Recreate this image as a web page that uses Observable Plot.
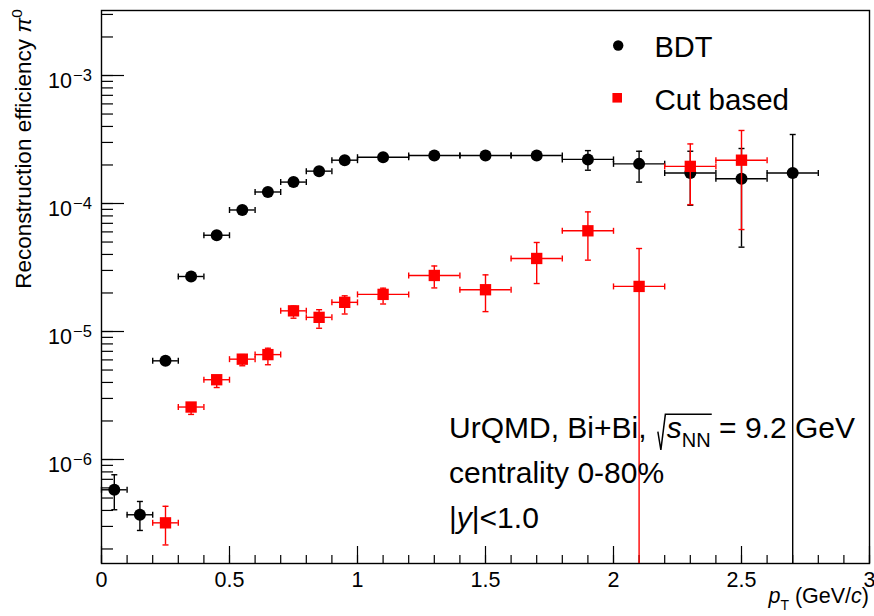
<!DOCTYPE html>
<html>
<head>
<meta charset="utf-8">
<script src="https://cdn.jsdelivr.net/npm/d3@7"></script>
<script src="https://cdn.jsdelivr.net/npm/@observablehq/plot@0.6"></script>
<style>
  html, body { margin: 0; padding: 0; background: #fff; }
  #chart svg { display: block; }
</style>
</head>
<body>
<div id="chart"></div>
<script>
// π0 reconstruction efficiency versus transverse momentum,
// BDT selection compared with cut-based selection.

// BDT selection: bin centres, half bin widths, efficiency and error band
const bdtPt   = [0.05, 0.15, 0.25, 0.35, 0.45, 0.55, 0.65, 0.75, 0.85, 0.95, 1.1, 1.3, 1.5, 1.7, 1.9, 2.1, 2.3, 2.5, 2.7];
const bdtXErr = [0.05, 0.05, 0.05, 0.05, 0.05, 0.05, 0.05, 0.05, 0.05, 0.05, 0.1, 0.1, 0.1, 0.1, 0.1, 0.1, 0.1, 0.1, 0.1];
const bdtEff  = [5.8e-7, 3.7e-7, 5.9e-6, 2.69e-5, 5.65e-5, 8.9e-5, 1.23e-4, 1.47e-4, 1.79e-4, 2.18e-4, 2.30e-4, 2.37e-4, 2.37e-4, 2.37e-4, 2.21e-4, 2.04e-4, 1.73e-4, 1.56e-4, 1.73e-4];
const bdtLow  = [4.05e-7, 2.79e-7, 5.7e-6, 2.62e-5, 5.5e-5, 8.7e-5, 1.2e-4, 1.44e-4, 1.75e-4, 2.13e-4, 2.24e-4, 2.30e-4, 2.30e-4, 2.27e-4, 1.82e-4, 1.47e-4, 9.7e-5, 4.56e-5, 0];
const bdtHigh = [7.6e-7, 4.7e-7, 6.1e-6, 2.76e-5, 5.8e-5, 9.1e-5, 1.26e-4, 1.50e-4, 1.83e-4, 2.23e-4, 2.36e-4, 2.44e-4, 2.44e-4, 2.47e-4, 2.59e-4, 2.56e-4, 2.56e-4, 2.69e-4, 3.46e-4];

// Cut-based selection
const cutPt   = [0.25, 0.35, 0.45, 0.55, 0.65, 0.75, 0.85, 0.95, 1.1, 1.3, 1.5, 1.7, 1.9, 2.1, 2.3, 2.5];
const cutXErr = [0.05, 0.05, 0.05, 0.05, 0.05, 0.05, 0.05, 0.05, 0.1, 0.1, 0.1, 0.1, 0.1, 0.1, 0.1, 0.1];
const cutEff  = [3.2e-7, 2.57e-6, 4.2e-6, 6.08e-6, 6.6e-6, 1.45e-5, 1.29e-5, 1.69e-5, 1.95e-5, 2.74e-5, 2.12e-5, 3.72e-5, 6.12e-5, 2.25e-5, 1.95e-4, 2.18e-4];
const cutLow  = [2.15e-7, 2.25e-6, 3.65e-6, 5.4e-6, 5.5e-6, 1.27e-5, 1.06e-5, 1.37e-5, 1.64e-5, 2.19e-5, 1.43e-5, 2.37e-5, 3.61e-5, 0, 9.8e-5, 6.26e-5];
const cutHigh = [4.31e-7, 2.75e-6, 4.5e-6, 6.6e-6, 7.4e-6, 1.58e-5, 1.48e-5, 1.90e-5, 2.18e-5, 3.25e-5, 2.77e-5, 4.96e-5, 8.6e-5, 4.45e-5, 2.92e-4, 3.72e-4];

const seriesNames  = ["BDT", "Cut based"];
const seriesColors = ["#000000", "#ff0000"];

// Axes
const xDomain = [0, 3];
const yDomain = [1.54e-7, 3.22e-3];
const xTickLabels = [0, 0.5, 1, 1.5, 2, 2.5, 3];
const yTickValues = [1e-6, 1e-5, 1e-4, 1e-3];
const yTickExponents = ["\u22126", "\u22125", "\u22124", "\u22123"];

const font = "'Liberation Sans', Arial, Helvetica, sans-serif";
const W = 874, H = 616, mL = 101, mR = 5, mT = 10, mB = 53;
const plotW = W - mL - mR, plotH = H - mT - mB;

const xMinor = d3.range(0, 31).map(i => i / 10);
const yMinor = [];
for (const dec of [1e-7, 1e-6, 1e-5, 1e-4, 1e-3]) {
  for (let m = 1; m <= 9; m++) {
    const v = m * dec;
    if (v >= yDomain[0] && v <= yDomain[1]) yMinor.push(v);
  }
}

function rows(pt, xerr, eff, lo, hi) {
  return pt.map((x, i) => ({x, y: eff[i], x1: x - xerr[i], x2: x + xerr[i], lo: lo[i], hi: hi[i]}));
}
const bdt = rows(bdtPt, bdtXErr, bdtEff, bdtLow, bdtHigh);
const cut = rows(cutPt, cutXErr, cutEff, cutLow, cutHigh);

// End caps for the error bars
const capAcross = {draw(ctx) { ctx.moveTo(-3, 0); ctx.lineTo(3, 0); }};
const capAlong  = {draw(ctx) { ctx.moveTo(0, -3); ctx.lineTo(0, 3); }};

function errorBars(data, color) {
  const o = {stroke: color, strokeWidth: 1.4};
  return [
    Plot.ruleY(data, {y: "y", x1: "x1", x2: "x2", ...o}),
    Plot.ruleX(data, {x: "x", y1: d => d.lo > 0 ? d.lo : yDomain[0] / 10, y2: "hi", clip: true, ...o}),
    Plot.dot(data, {x: "x1", y: "y", symbol: capAlong, fill: "none", ...o}),
    Plot.dot(data, {x: "x2", y: "y", symbol: capAlong, fill: "none", ...o}),
    Plot.dot(data.filter(d => d.lo > 0), {x: "x", y: "lo", symbol: capAcross, fill: "none", ...o}),
    Plot.dot(data, {x: "x", y: "hi", symbol: capAcross, fill: "none", ...o})
  ];
}

const svg = Plot.plot({
  width: W, height: H,
  marginLeft: mL, marginRight: mR, marginTop: mT, marginBottom: mB,
  style: {background: "#fff", overflow: "visible"},
  x: {domain: xDomain, axis: null},
  y: {type: "log", domain: yDomain, axis: null},
  marks: [
    // tick marks drawn inward from the bottom and left edges
    Plot.tickX(xMinor, {x: d => d, insetTop: plotH - 8, stroke: "#000", strokeWidth: 1.2}),
    Plot.tickX(xTickLabels, {x: d => d, insetTop: plotH - 17, stroke: "#000", strokeWidth: 1.2}),
    Plot.tickY(yMinor, {y: d => d, insetRight: plotW - 12, stroke: "#000", strokeWidth: 1.2}),
    Plot.tickY(yTickValues, {y: d => d, insetRight: plotW - 23, stroke: "#000", strokeWidth: 1.2}),
    Plot.frame({stroke: "#000", strokeWidth: 1.4}),

    // tick labels
    Plot.text(xTickLabels, {x: d => d, frameAnchor: "bottom", dy: 23, lineAnchor: "bottom",
      text: d => String(d), fontSize: 21.5, fontFamily: font, fill: "#000"}),
    Plot.text(yTickValues, {y: d => d, frameAnchor: "left", dx: -29.5, dy: 12.3, textAnchor: "end",
      lineAnchor: "bottom", text: () => "10", fontSize: 21.5, fontFamily: font, fill: "#000"}),
    Plot.text(yTickValues, {y: d => d, frameAnchor: "left", dx: -28.5, dy: 5.7, textAnchor: "start",
      lineAnchor: "bottom", text: (d, i) => yTickExponents[i], fontSize: 16.5, fontFamily: font, fill: "#000"}),

    // data
    ...errorBars(bdt, seriesColors[0]),
    Plot.dot(bdt, {x: "x", y: "y", r: 6, fill: seriesColors[0], symbol: "circle"}),
    ...errorBars(cut, seriesColors[1]),
    Plot.dot(cut, {x: "x", y: "y", r: 6.4, fill: seriesColors[1], symbol: "square"}),

    // legend
    Plot.dot([seriesNames[0]], {frameAnchor: "top-left", dx: 516.7, dy: 35, r: 5.2, fill: seriesColors[0], symbol: "circle"}),
    Plot.dot([seriesNames[1]], {frameAnchor: "top-left", dx: 515.7, dy: 87.3, r: 5.4, fill: seriesColors[1], symbol: "square"}),
    Plot.text([seriesNames[0]], {frameAnchor: "top-left", dx: 553, dy: 46, textAnchor: "start", lineAnchor: "bottom",
      text: d => d, fontSize: 29, fontFamily: font, fill: "#000"}),
    Plot.text([seriesNames[1]], {frameAnchor: "top-left", dx: 553, dy: 99.3, textAnchor: "start", lineAnchor: "bottom",
      text: d => d, fontSize: 29.5, fontFamily: font, fill: "#000"})
  ]
});

document.getElementById("chart").append(svg);
const root = d3.select(svg);

// y-axis title, right-aligned to the top of the axis
const yTitle = root.append("text")
  .attr("transform", `translate(31,${mT - 1}) rotate(-90)`)
  .attr("text-anchor", "end")
  .style("font-family", font).style("font-size", "22.5px").attr("fill", "#000");
yTitle.append("tspan").text("Reconstruction efficiency ");
yTitle.append("tspan").style("font-style", "italic").text("\u03c0");
yTitle.append("tspan").attr("dy", -9).style("font-size", "15.5px").text("0");

// x-axis title, right-aligned to the end of the axis
const xTitle = root.append("text")
  .attr("x", W - mR).attr("y", 603)
  .attr("text-anchor", "end")
  .style("font-family", font).style("font-size", "21.5px").attr("fill", "#000");
xTitle.append("tspan").style("font-style", "italic").text("p");
xTitle.append("tspan").attr("dy", 7).style("font-size", "14px").text("T");
xTitle.append("tspan").attr("dy", -7).text(" (GeV/");
xTitle.append("tspan").style("font-style", "italic").text("c");
xTitle.append("tspan").text(")");

// collision system annotation
const ax = 449, lines = [437.7, 483.3, 528.3];
function annotationLine(y) {
  return root.append("text").attr("x", ax).attr("y", y).attr("text-anchor", "start")
    .style("font-family", font).style("font-size", "30px").attr("fill", "#000");
}
const l1 = annotationLine(lines[0]);
l1.append("tspan").text("UrQMD, Bi+Bi, ");
const sPart = l1.append("tspan").attr("dx", 12).style("font-style", "italic").text("s");
const nnPart = l1.append("tspan").attr("dy", 9).style("font-size", "20px").text("NN");
l1.append("tspan").attr("dy", -9).text(" = 9.2 GeV");

const sx = sPart.node().getStartPositionOfChar(0).x;
const nnEnd = nnPart.node().getStartPositionOfChar(0).x + nnPart.node().getComputedTextLength();
const by = lines[0];
root.append("path")
  .attr("d", `M${sx - 9},${by - 6} L${sx - 6},${by + 12.3} L${sx - 1.5},${by - 23.4} L${nnEnd + 1},${by - 23.4}`)
  .attr("fill", "none").attr("stroke", "#000").attr("stroke-width", 1.5);

annotationLine(lines[1]).text("centrality 0-80%");

const l3 = annotationLine(lines[2]);
l3.append("tspan").text("|");
l3.append("tspan").style("font-style", "italic").text("y");
l3.append("tspan").text("|<1.0");
</script>
</body>
</html>
